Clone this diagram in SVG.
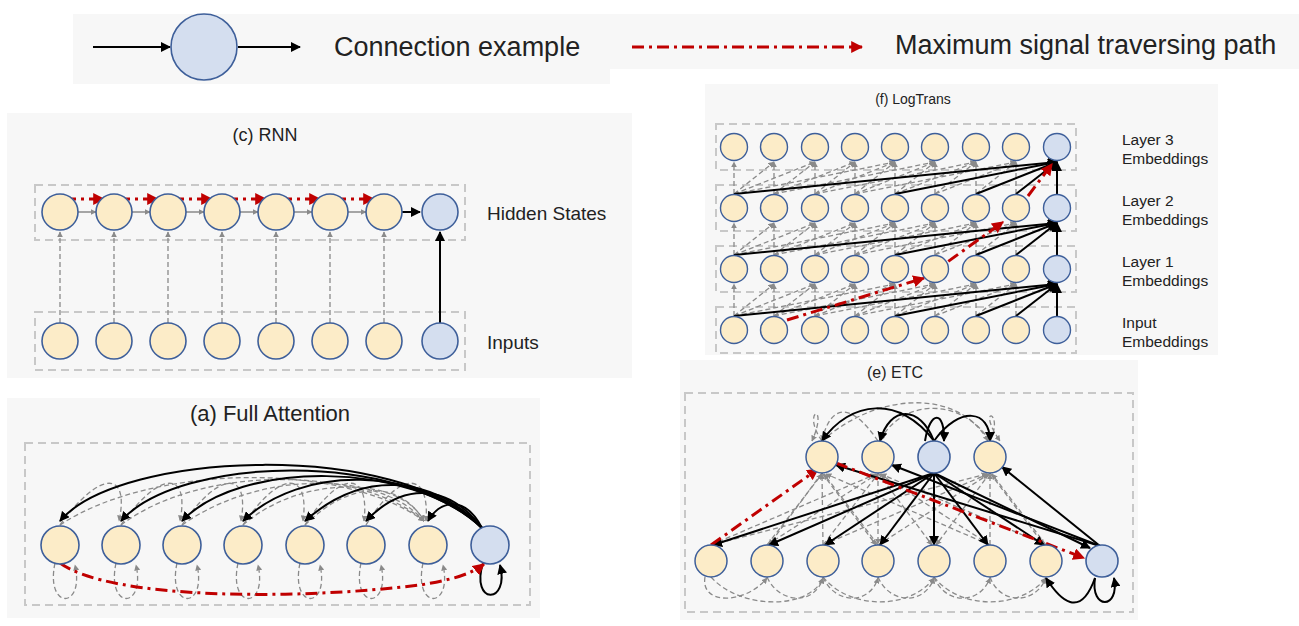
<svg xmlns="http://www.w3.org/2000/svg" width="1299" height="626" viewBox="0 0 1299 626">
<style>
text{font-family:"Liberation Sans",Arial,sans-serif;fill:#222}
.bg{fill:#f7f7f7}
.box{fill:none;stroke:#c8c8c8;stroke-width:2;stroke-dasharray:8 5}
.b{fill:#d4deef;stroke:#3e5f9a;stroke-width:1.6}
.k{fill:none;stroke:#000;stroke-width:2;marker-end:url(#ak)}
.g{fill:none;stroke:#8a8a8a;stroke-width:1.3;stroke-dasharray:5 3;marker-end:url(#ag)}
.gs{fill:none;stroke:#8a8a8a;stroke-width:1.5;marker-end:url(#ag)}
.r{fill:none;stroke:#c00000;stroke-width:3;stroke-dasharray:12 5 3 5;marker-end:url(#ar)}
</style>
<defs>
<marker id="ak" viewBox="0 0 10 10" refX="9" refY="5" markerWidth="5" markerHeight="5" orient="auto"><path d="M0,0L10,5L0,10z" fill="#000"/></marker>
<marker id="ag" viewBox="0 0 10 10" refX="9" refY="5" markerWidth="6" markerHeight="6" orient="auto" markerUnits="userSpaceOnUse"><path d="M0,0L10,5L0,10z" fill="#8a8a8a"/></marker>
<marker id="ar" viewBox="0 0 10 10" refX="9" refY="5" markerWidth="4" markerHeight="4" orient="auto"><path d="M0,0L10,5L0,10z" fill="#c00000"/></marker>
</defs>
<rect width="1299" height="626" fill="#fff"/>
<g id="legend">
<rect class="bg" x="73" y="14" width="537" height="70"/>
<rect class="bg" x="610" y="14" width="689" height="55"/>
<line class="k" x1="93" y1="47" x2="170" y2="47"/>
<circle class="b" cx="204" cy="47" r="33"/>
<line class="k" x1="238" y1="47" x2="300" y2="47"/>
<text x="334" y="56" font-size="27">Connection example</text>
<line class="r" x1="632" y1="47" x2="862" y2="47"/>
<text x="895" y="54" font-size="27">Maximum signal traversing path</text>
</g>
<g id="rnn">
<rect class="bg" x="7" y="113" width="625" height="265"/>
<text x="265" y="141" font-size="18" text-anchor="middle">(c) RNN</text>
<rect class="box" x="35" y="185" width="430" height="55"/>
<rect class="box" x="35" y="312" width="430" height="58"/>
<text x="487" y="220" font-size="19">Hidden States</text>
<text x="487" y="349" font-size="19">Inputs</text>
<g id="rnn-edges">
<path class="gs" d="M78,212H96"/><path class="gs" d="M132,212H150"/><path class="gs" d="M186,212H204"/><path class="gs" d="M240,212H258"/><path class="gs" d="M294,212H312"/><path class="gs" d="M348,212H366"/>
<line class="k" x1="402" y1="212" x2="420" y2="212"/>
<path class="g" d="M60,323V232"/><path class="g" d="M114,323V232"/><path class="g" d="M168,323V232"/><path class="g" d="M222,323V232"/><path class="g" d="M276,323V232"/><path class="g" d="M330,323V232"/><path class="g" d="M384,323V232"/>
<line class="k" x1="440" y1="323" x2="440" y2="232"/>
<path class="r" d="M64,199H104"/><path class="r" d="M118,199H158"/><path class="r" d="M172,199H212"/><path class="r" d="M226,199H266"/><path class="r" d="M280,199H320"/><path class="r" d="M334,199H374"/>
</g>
<g fill="#fcecc8" stroke="#3e5f9a" stroke-width="1.6">
<circle cx="60" cy="212" r="18"/><circle cx="114" cy="212" r="18"/><circle cx="168" cy="212" r="18"/><circle cx="222" cy="212" r="18"/><circle cx="276" cy="212" r="18"/><circle cx="330" cy="212" r="18"/><circle cx="384" cy="212" r="18"/>
<circle cx="60" cy="341" r="18"/><circle cx="114" cy="341" r="18"/><circle cx="168" cy="341" r="18"/><circle cx="222" cy="341" r="18"/><circle cx="276" cy="341" r="18"/><circle cx="330" cy="341" r="18"/><circle cx="384" cy="341" r="18"/>
</g>
<circle class="b" cx="440" cy="212" r="18"/><circle class="b" cx="440" cy="341" r="18"/>
</g>
<g id="full">
<rect class="bg" x="7" y="398" width="533" height="220"/>
<text x="270" y="421" font-size="22" text-anchor="middle">(a) Full Attention</text>
<rect class="box" x="25" y="443" width="505" height="162"/>
<g id="full-edges">
<path class="g" d="M60,525C100,470 130,470 119,521"/><path class="g" d="M121,525C160,470 190,470 180,521"/><path class="g" d="M182,525C220,470 250,470 241,521"/><path class="g" d="M243,525C280,470 310,470 303,521"/><path class="g" d="M305,525C340,470 370,470 364,521"/><path class="g" d="M366,525C400,470 430,470 426,521"/>
<path class="g" d="M60,525C150,465 340,460 424,521"/><path class="g" d="M121,525C200,465 360,465 424,521"/><path class="g" d="M182,525C260,470 380,470 424,521"/><path class="g" d="M243,525C300,475 400,475 424,521"/><path class="g" d="M305,525C350,480 400,480 424,521"/>
<path class="g" d="M55,563C45,610 85,610 75,565"/><path class="g" d="M116,563C106,610 146,610 136,565"/><path class="g" d="M177,563C167,610 207,610 197,565"/><path class="g" d="M238,563C228,610 268,610 258,565"/><path class="g" d="M300,563C290,610 330,610 320,565"/><path class="g" d="M361,563C351,610 391,610 381,565"/><path class="g" d="M423,563C413,610 453,610 443,565"/>
<path class="k" d="M482,528C400,440 120,450 60,521"/><path class="k" d="M482,528C400,450 180,455 121,521"/><path class="k" d="M482,528C410,460 240,460 182,521"/><path class="k" d="M482,528C420,465 300,465 243,521"/><path class="k" d="M482,528C430,472 360,472 305,521"/><path class="k" d="M482,528C445,480 400,485 366,521"/><path class="k" d="M482,528C465,495 440,500 428,521"/>
<path class="k" d="M483,563C470,605 510,605 500,565"/>
<path class="r" d="M60,563C110,600 300,600 420,585C450,580 470,575 484,564"/>
</g>
<g fill="#fcecc8" stroke="#3e5f9a" stroke-width="1.6">
<circle cx="60" cy="545" r="19"/><circle cx="121" cy="545" r="19"/><circle cx="182" cy="545" r="19"/><circle cx="243" cy="545" r="19"/><circle cx="305" cy="545" r="19"/><circle cx="366" cy="545" r="19"/><circle cx="428" cy="545" r="19"/>
</g>
<circle class="b" cx="490" cy="545" r="19"/>
</g>
<g id="logtrans">
<rect class="bg" x="705" y="84" width="513" height="271"/>
<text x="913" y="104" font-size="14" text-anchor="middle">(f) LogTrans</text>
<rect class="box" x="716" y="124" width="360" height="46" stroke-width="1.3"/>
<rect class="box" x="716" y="185" width="360" height="46" stroke-width="1.3"/>
<rect class="box" x="716" y="246" width="360" height="46" stroke-width="1.3"/>
<rect class="box" x="716" y="307" width="360" height="46" stroke-width="1.3"/>
<g font-size="15.5"><text x="1122" y="145">Layer 3</text><text x="1122" y="164">Embeddings</text><text x="1122" y="206">Layer 2</text><text x="1122" y="225">Embeddings</text><text x="1122" y="267">Layer 1</text><text x="1122" y="286">Embeddings</text><text x="1122" y="328">Input</text><text x="1122" y="347">Embeddings</text></g>
<g id="lt-edges">
<g id="lt-l3">
<path class="g" d="M734,194V162"/><path class="g" d="M774,194V162"/><path class="g" d="M815,194V162"/><path class="g" d="M855,194V162"/><path class="g" d="M895,194V162"/><path class="g" d="M935,194V162"/><path class="g" d="M976,194V162"/><path class="g" d="M1016,194V162"/>
<path class="g" d="M734,194L774,162"/><path class="g" d="M774,194L815,162"/><path class="g" d="M815,194L855,162"/><path class="g" d="M855,194L895,162"/><path class="g" d="M895,194L935,162"/><path class="g" d="M935,194L976,162"/><path class="g" d="M976,194L1016,162"/>
<path class="g" d="M734,194L815,162"/><path class="g" d="M774,194L855,162"/><path class="g" d="M815,194L895,162"/><path class="g" d="M855,194L935,162"/><path class="g" d="M895,194L976,162"/><path class="g" d="M935,194L1016,162"/>
<path class="g" d="M734,194L895,162"/><path class="g" d="M774,194L935,162"/><path class="g" d="M815,194L976,162"/><path class="g" d="M855,194L1016,162"/>
<path class="k" d="M734,194L1057,162"/><path class="k" d="M895,194L1057,162"/><path class="k" d="M976,194L1057,162"/><path class="k" d="M1016,194L1057,162"/><path class="k" d="M1057,194V162"/>
</g>
<g id="lt-l2">
<path class="g" d="M734,255V223"/><path class="g" d="M774,255V223"/><path class="g" d="M815,255V223"/><path class="g" d="M855,255V223"/><path class="g" d="M895,255V223"/><path class="g" d="M935,255V223"/><path class="g" d="M976,255V223"/><path class="g" d="M1016,255V223"/>
<path class="g" d="M734,255L774,223"/><path class="g" d="M774,255L815,223"/><path class="g" d="M815,255L855,223"/><path class="g" d="M855,255L895,223"/><path class="g" d="M895,255L935,223"/><path class="g" d="M935,255L976,223"/><path class="g" d="M976,255L1016,223"/>
<path class="g" d="M734,255L815,223"/><path class="g" d="M774,255L855,223"/><path class="g" d="M815,255L895,223"/><path class="g" d="M855,255L935,223"/><path class="g" d="M895,255L976,223"/><path class="g" d="M935,255L1016,223"/>
<path class="g" d="M734,255L895,223"/><path class="g" d="M774,255L935,223"/><path class="g" d="M815,255L976,223"/><path class="g" d="M855,255L1016,223"/>
<path class="k" d="M734,255L1057,223"/><path class="k" d="M895,255L1057,223"/><path class="k" d="M976,255L1057,223"/><path class="k" d="M1016,255L1057,223"/><path class="k" d="M1057,255V223"/>
</g>
<g id="lt-l1">
<path class="g" d="M734,316V284"/><path class="g" d="M774,316V284"/><path class="g" d="M815,316V284"/><path class="g" d="M855,316V284"/><path class="g" d="M895,316V284"/><path class="g" d="M935,316V284"/><path class="g" d="M976,316V284"/><path class="g" d="M1016,316V284"/>
<path class="g" d="M734,316L774,284"/><path class="g" d="M774,316L815,284"/><path class="g" d="M815,316L855,284"/><path class="g" d="M855,316L895,284"/><path class="g" d="M895,316L935,284"/><path class="g" d="M935,316L976,284"/><path class="g" d="M976,316L1016,284"/>
<path class="g" d="M734,316L815,284"/><path class="g" d="M774,316L855,284"/><path class="g" d="M815,316L895,284"/><path class="g" d="M855,316L935,284"/><path class="g" d="M895,316L976,284"/><path class="g" d="M935,316L1016,284"/>
<path class="g" d="M734,316L895,284"/><path class="g" d="M774,316L935,284"/><path class="g" d="M815,316L976,284"/><path class="g" d="M855,316L1016,284"/>
<path class="k" d="M734,316L1057,284"/><path class="k" d="M895,316L1057,284"/><path class="k" d="M976,316L1057,284"/><path class="k" d="M1016,316L1057,284"/><path class="k" d="M1057,316V284"/>
</g>
<path class="r" d="M787,320L924,278"/><path class="r" d="M928,276L1003,222"/><path class="r" d="M1028,196L1052,164"/>
</g>
<g fill="#fcecc8" stroke="#3e5f9a" stroke-width="1.4">
<circle cx="734" cy="147" r="13.5"/><circle cx="774" cy="147" r="13.5"/><circle cx="815" cy="147" r="13.5"/><circle cx="855" cy="147" r="13.5"/><circle cx="895" cy="147" r="13.5"/><circle cx="935" cy="147" r="13.5"/><circle cx="976" cy="147" r="13.5"/><circle cx="1016" cy="147" r="13.5"/>
<circle cx="734" cy="208" r="13.5"/><circle cx="774" cy="208" r="13.5"/><circle cx="815" cy="208" r="13.5"/><circle cx="855" cy="208" r="13.5"/><circle cx="895" cy="208" r="13.5"/><circle cx="935" cy="208" r="13.5"/><circle cx="976" cy="208" r="13.5"/><circle cx="1016" cy="208" r="13.5"/>
<circle cx="734" cy="269" r="13.5"/><circle cx="774" cy="269" r="13.5"/><circle cx="815" cy="269" r="13.5"/><circle cx="855" cy="269" r="13.5"/><circle cx="895" cy="269" r="13.5"/><circle cx="935" cy="269" r="13.5"/><circle cx="976" cy="269" r="13.5"/><circle cx="1016" cy="269" r="13.5"/>
<circle cx="734" cy="330" r="13.5"/><circle cx="774" cy="330" r="13.5"/><circle cx="815" cy="330" r="13.5"/><circle cx="855" cy="330" r="13.5"/><circle cx="895" cy="330" r="13.5"/><circle cx="935" cy="330" r="13.5"/><circle cx="976" cy="330" r="13.5"/><circle cx="1016" cy="330" r="13.5"/>
</g>
<g fill="#d4deef" stroke="#3e5f9a" stroke-width="1.4"><circle cx="1057" cy="147" r="13.5"/><circle cx="1057" cy="208" r="13.5"/><circle cx="1057" cy="269" r="13.5"/><circle cx="1057" cy="330" r="13.5"/></g>
</g>
<g id="etc">
<rect class="bg" x="680" y="360" width="458" height="260"/>
<text x="895" y="378" font-size="16" text-anchor="middle">(e) ETC</text>
<rect class="box" x="685" y="393" width="448" height="219"/>
<g id="etc-edges">
<path class="g" d="M767,545L822,474"/><path class="g" d="M823,545L822,474"/><path class="g" d="M878,545L824,474"/><path class="g" d="M990,545L826,474"/>
<path class="g" d="M711,545L876,474"/><path class="g" d="M767,545L877,474"/><path class="g" d="M823,545L878,474"/><path class="g" d="M990,545L880,474"/><path class="g" d="M1046,545L881,474"/>
<path class="g" d="M711,545L987,474"/><path class="g" d="M823,545L988,474"/><path class="g" d="M878,545L989,474"/><path class="g" d="M990,545L990,474"/><path class="g" d="M1046,545L992,474"/>
<path class="g" d="M822,473L769,545"/><path class="g" d="M878,473L878,544"/><path class="g" d="M878,473L932,545"/><path class="g" d="M990,473L1044,545"/><path class="g" d="M990,473L936,545"/><path class="g" d="M822,473L876,545"/>
<path class="g" d="M822,441C800,410 830,400 812,441"/><path class="g" d="M878,441C850,400 830,405 822,441"/><path class="g" d="M990,441C960,395 900,400 880,441"/><path class="g" d="M990,441C1005,410 975,405 1000,441"/><path class="g" d="M822,441C880,390 960,390 988,441"/>
<path class="g" d="M705,577C700,605 745,605 767,578"/><path class="g" d="M767,577C780,605 815,605 823,578"/><path class="g" d="M823,577C835,605 870,605 878,578"/><path class="g" d="M878,577C890,605 925,605 934,578"/><path class="g" d="M934,577C945,605 980,605 990,578"/><path class="g" d="M990,577C1000,605 1035,605 1046,578"/><path class="g" d="M711,577C740,610 810,610 823,578"/><path class="g" d="M823,577C850,610 910,610 934,578"/><path class="g" d="M934,577C960,610 1020,610 1046,578"/>
<path class="k" d="M934,473L713,545"/><path class="k" d="M934,473L769,545"/><path class="k" d="M934,473L825,545"/><path class="k" d="M934,473L880,545"/><path class="k" d="M934,473L934,545"/><path class="k" d="M934,473L988,545"/><path class="k" d="M934,473L1044,545"/><path class="k" d="M934,473L1090,548"/>
<path class="k" d="M1100,546L836,465"/><path class="k" d="M1100,546L892,465"/><path class="k" d="M1100,546L1002,467"/>
<path class="k" d="M934,441C900,395 850,400 822,441"/><path class="k" d="M934,441C920,405 890,405 880,441"/><path class="k" d="M934,441C960,405 990,410 990,441"/><path class="k" d="M925,441C930,410 945,410 944,441"/>
<path class="k" d="M1095,578C1080,620 1060,600 1046,578"/><path class="k" d="M1095,578C1090,610 1120,610 1114,578"/>
<path class="r" d="M711,545L818,469"/><path class="r" d="M836,463L1084,558"/>
</g>
<g fill="#fcecc8" stroke="#3e5f9a" stroke-width="1.5">
<circle cx="822" cy="457" r="16"/><circle cx="878" cy="457" r="16"/><circle cx="990" cy="457" r="16"/>
<circle cx="711" cy="561" r="16"/><circle cx="767" cy="561" r="16"/><circle cx="823" cy="561" r="16"/><circle cx="878" cy="561" r="16"/><circle cx="934" cy="561" r="16"/><circle cx="990" cy="561" r="16"/><circle cx="1046" cy="561" r="16"/>
</g>
<circle class="b" cx="934" cy="457" r="16"/><circle class="b" cx="1102" cy="561" r="16"/>
</g>
</svg>
